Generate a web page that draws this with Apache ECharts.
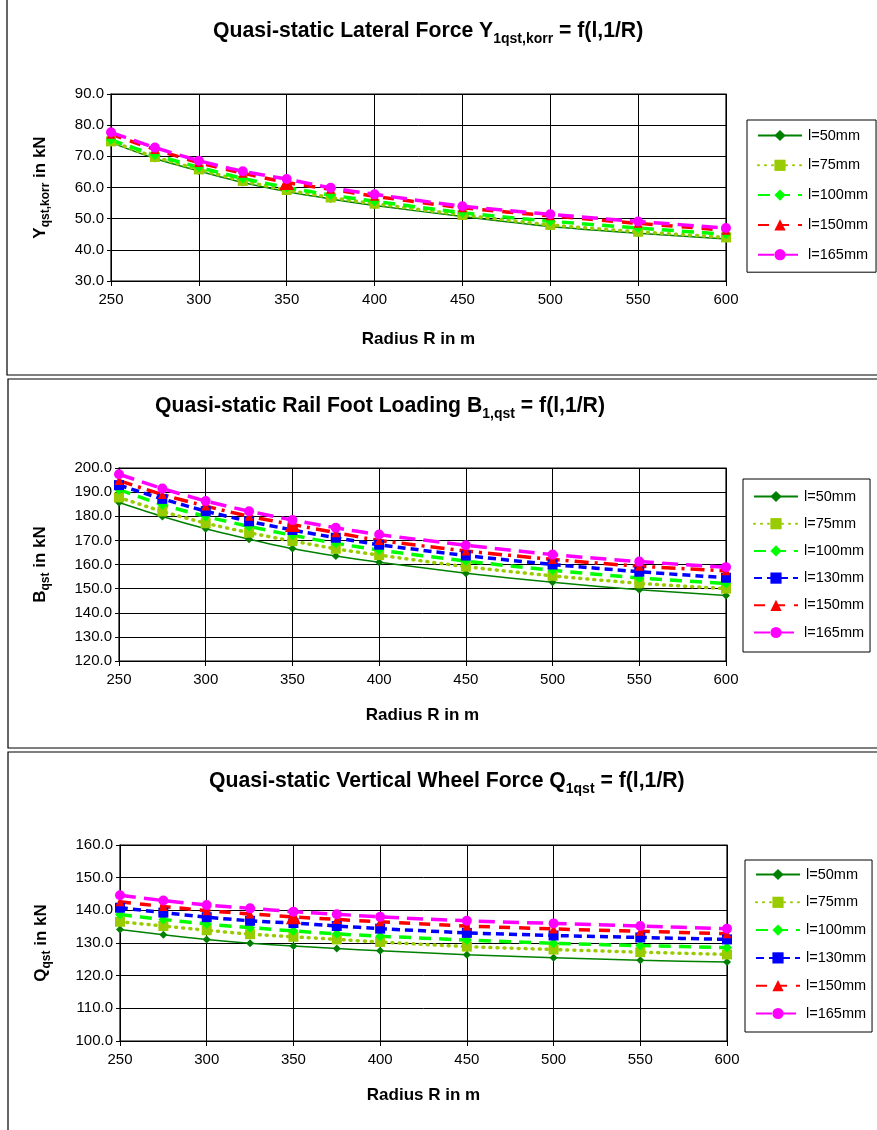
<!DOCTYPE html>
<html>
<head>
<meta charset="utf-8">
<script src="https://cdn.jsdelivr.net/npm/echarts@6/dist/echarts.min.js"></script>
<style>
html,body{margin:0;padding:0;background:#fff;}
#c{width:877px;height:1130px;}
</style>
</head>
<body>
<div id="c"></div>
<script>
// ---- data ----
const radius = [250, 275, 300, 325, 350, 375, 400, 450, 500, 550, 600];

const latNames = ['l=50mm', 'l=75mm', 'l=100mm', 'l=150mm', 'l=165mm'];
const lat50  = [74.4, 69.3, 65.3, 61.6, 58.7, 56.3, 54.2, 50.7, 47.5, 45.3, 43.5];
const lat75  = [74.8, 69.8, 65.8, 62.1, 59.2, 56.8, 54.8, 51.2, 48.0, 45.8, 44.0];
const lat100 = [75.3, 70.4, 66.5, 62.9, 60.0, 57.6, 55.6, 51.9, 49.2, 47.0, 45.0];
const lat150 = [77.1, 72.2, 68.0, 64.6, 61.6, 59.4, 57.2, 53.5, 50.9, 48.5, 46.3];
const lat165 = [77.7, 72.8, 68.6, 65.2, 62.7, 59.9, 57.8, 54.0, 51.4, 49.1, 47.0];

const footNames = ['l=50mm', 'l=75mm', 'l=100mm', 'l=130mm', 'l=150mm', 'l=165mm'];
const foot50  = [185.7, 179.9, 174.8, 170.5, 166.6, 163.5, 160.9, 156.4, 152.6, 149.5, 147.2];
const foot75  = [187.8, 182.0, 177.1, 173.2, 169.7, 166.5, 163.9, 159.1, 155.3, 152.2, 150.0];
const foot100 = [191.0, 184.8, 179.9, 175.8, 172.1, 168.8, 166.0, 161.4, 157.6, 154.4, 152.1];
const foot130 = [192.9, 187.2, 182.1, 177.9, 174.3, 171.1, 168.2, 163.7, 160.0, 157.0, 154.5];
const foot150 = [194.8, 189.0, 184.2, 180.0, 176.6, 173.2, 170.0, 165.6, 162.1, 159.3, 157.4];
const foot165 = [197.4, 191.5, 186.3, 182.1, 178.4, 175.2, 172.4, 168.0, 164.1, 161.2, 158.9];

const vertNames = ['l=50mm', 'l=75mm', 'l=100mm', 'l=130mm', 'l=150mm', 'l=165mm'];
const vert50  = [134.1, 132.5, 131.1, 129.9, 129.1, 128.3, 127.6, 126.4, 125.5, 124.7, 124.2];
const vert75  = [136.5, 135.2, 133.9, 132.7, 131.9, 131.1, 130.3, 128.9, 128.0, 127.2, 126.5];
const vert100 = [138.7, 137.2, 135.8, 134.7, 133.7, 132.8, 132.1, 130.9, 129.9, 129.2, 128.6];
const vert130 = [140.8, 139.3, 137.9, 136.8, 136.1, 135.2, 134.4, 133.1, 132.3, 131.7, 131.1];
const vert150 = [142.6, 141.2, 139.9, 138.9, 138.0, 137.2, 136.5, 135.2, 134.3, 133.6, 132.8];
const vert165 = [144.6, 143.0, 141.6, 140.6, 139.6, 138.8, 138.0, 136.8, 136.0, 135.2, 134.4];

const xTicks = {min: 250, max: 600, interval: 50};

// ---- styles ----
const FONT = 'Liberation Sans, Arial, sans-serif';
const styleFor = {
  'l=50mm':  {color: '#008000', type: 'solid', width: 1.5, symbol: 'diamond', size: 8},
  'l=75mm':  {color: '#99CC00', type: [1, 6], width: 3.5, symbol: 'rect', size: 10, cap: 'round'},
  'l=100mm': {color: '#00FF00', type: [12, 8], width: 3.5, symbol: 'diamond', size: 10},
  'l=130mm': {color: '#0000FF', type: [8, 5], width: 3.5, symbol: 'rect', size: 10},
  'l=150mm': {color: '#FF0000', type: [11, 9], width: 3.5, symbol: 'triangle', size: 9},
  'l=165mm': {color: '#FF00FF', type: [16, 8], width: 3.5, symbol: 'circle', size: 10}
};

function mkSeries(names, arrays, idx, redDashDot) {
  return names.map((n, i) => {
    const s = styleFor[n];
    let type = s.type;
    if (n === 'l=150mm' && redDashDot) type = [14, 6, 3, 6];
    return {
      name: n, type: 'line', xAxisIndex: idx, yAxisIndex: idx,
      data: radius.map((r, k) => [r, arrays[i][k]]),
      symbol: s.symbol,
      symbolSize: n === 'l=150mm' ? (v, p) => (p.dataIndex === 4 ? 15 : s.size) : s.size,
      showSymbol: true,
      smooth: 0.2,
      itemStyle: {color: s.color},
      lineStyle: {color: s.color, width: s.width, type: type, cap: s.cap || 'butt'},
      emphasis: {disabled: true},
      animation: false
    };
  });
}

const grids = [
  {left: 111, top: 94, width: 615, height: 187},
  {left: 119, top: 468, width: 607, height: 193},
  {left: 120, top: 845, width: 607, height: 196}
];
const yRanges = [
  {min: 30, max: 90, interval: 10},
  {min: 120, max: 200, interval: 10},
  {min: 100, max: 160, interval: 10}
];
const yNames = [
  '{m|Y}{s|qst,korr}{m| in kN}',
  '{m|B}{s|qst}{m| in kN}',
  '{m|Q}{s|qst}{m| in kN}'
];
const richName = {
  m: {fontSize: 17, fontWeight: 'bold', fontFamily: FONT, color: '#000', lineHeight: 24, verticalAlign: 'middle'},
  s: {fontSize: 12, fontWeight: 'bold', fontFamily: FONT, color: '#000', lineHeight: 13, verticalAlign: 'bottom'}
};
const richTitle = {
  m: {fontSize: 21.2, fontWeight: 'bold', fontFamily: FONT, color: '#000', lineHeight: 30, verticalAlign: 'middle'},
  s: {fontSize: 14, fontWeight: 'bold', fontFamily: FONT, color: '#000', lineHeight: 16, verticalAlign: 'bottom'}
};

const xAxes = grids.map((g, i) => ({
  type: 'value', gridIndex: i, min: xTicks.min, max: xTicks.max, interval: xTicks.interval,
  name: 'Radius R in m', nameLocation: 'middle', nameGap: i === 0 ? 50 : 46,
  nameTextStyle: {fontSize: 17, fontWeight: 'bold', fontFamily: FONT, color: '#000'},
  axisLine: {show: true, lineStyle: {color: '#000', width: 1}},
  axisTick: {show: true, inside: false, length: 5, lineStyle: {color: '#000'}},
  axisLabel: {fontSize: 15, fontFamily: FONT, color: '#000', margin: 11},
  splitLine: {show: true, lineStyle: {color: '#000', width: 1}}
}));
const yAxes = grids.map((g, i) => ({
  type: 'value', gridIndex: i, min: yRanges[i].min, max: yRanges[i].max, interval: yRanges[i].interval,
  name: yNames[i], nameLocation: 'middle', nameGap: i === 0 ? 59 : 67, nameRotate: 90,
  nameTextStyle: {rich: richName},
  axisLine: {show: true, lineStyle: {color: '#000', width: 1}},
  axisTick: {show: true, inside: false, length: 4, lineStyle: {color: '#000'}},
  axisLabel: {fontSize: 15, fontFamily: FONT, color: '#000', margin: 7, formatter: v => v.toFixed(1)},
  splitLine: {show: true, lineStyle: {color: '#000', width: 1}}
}));

const legendBase = {
  orient: 'vertical', itemWidth: 44, itemHeight: 14,
  borderColor: '#000', borderWidth: 1, backgroundColor: '#fff', borderRadius: 0,
  textStyle: {fontSize: 14.5, fontFamily: FONT, color: '#000', padding: [0, 0, 0, 1]},
  selectedMode: false
};
const legends = [
  Object.assign({}, legendBase, {data: latNames, left: 747, top: 120, padding: [8, 8, 10, 10], itemGap: 14.8}),
  Object.assign({}, legendBase, {data: footNames, left: 743, top: 479, padding: [10, 6, 12, 10], itemGap: 12.2}),
  Object.assign({}, legendBase, {data: vertNames, left: 745, top: 860, padding: [7, 6, 11, 10], itemGap: 12.8})
];

const titles = [
  {text: '{m|Quasi-static Lateral Force Y}{s|1qst,korr}{m| = f(l,1/R)}', left: 213, top: 16},
  {text: '{m|Quasi-static Rail Foot Loading B}{s|1,qst}{m| = f(l,1/R)}', left: 155, top: 391},
  {text: '{m|Quasi-static Vertical Wheel Force Q}{s|1qst}{m| = f(l,1/R)}', left: 209, top: 766}
].map(t => Object.assign(t, {padding: 0, textStyle: {rich: richTitle}}));

const series = []
  .concat(mkSeries(latNames, [lat50, lat75, lat100, lat150, lat165], 0, false))
  .concat(mkSeries(footNames, [foot50, foot75, foot100, foot130, foot150, foot165], 1, true))
  .concat(mkSeries(vertNames, [vert50, vert75, vert100, vert130, vert150, vert165], 2, false));

const chart = echarts.init(document.getElementById('c'), null, {renderer: 'canvas'});
chart.setOption({
  animation: false,
  backgroundColor: '#fff',
  title: titles,
  grid: grids.map(g => Object.assign({}, g, {show: true, borderColor: '#000', borderWidth: 1.2, backgroundColor: 'transparent'})),
  xAxis: xAxes,
  yAxis: yAxes,
  legend: legends,
  series: series,
  graphic: [
    {type: 'rect', shape: {x: 7, y: -2, width: 880, height: 377}, style: {fill: null, stroke: '#000', lineWidth: 1.2}, silent: true},
    {type: 'rect', shape: {x: 8, y: 379, width: 880, height: 369}, style: {fill: null, stroke: '#000', lineWidth: 1.2}, silent: true},
    {type: 'rect', shape: {x: 8, y: 752, width: 880, height: 390}, style: {fill: null, stroke: '#000', lineWidth: 1.2}, silent: true}
  ]
});
</script>
</body>
</html>
